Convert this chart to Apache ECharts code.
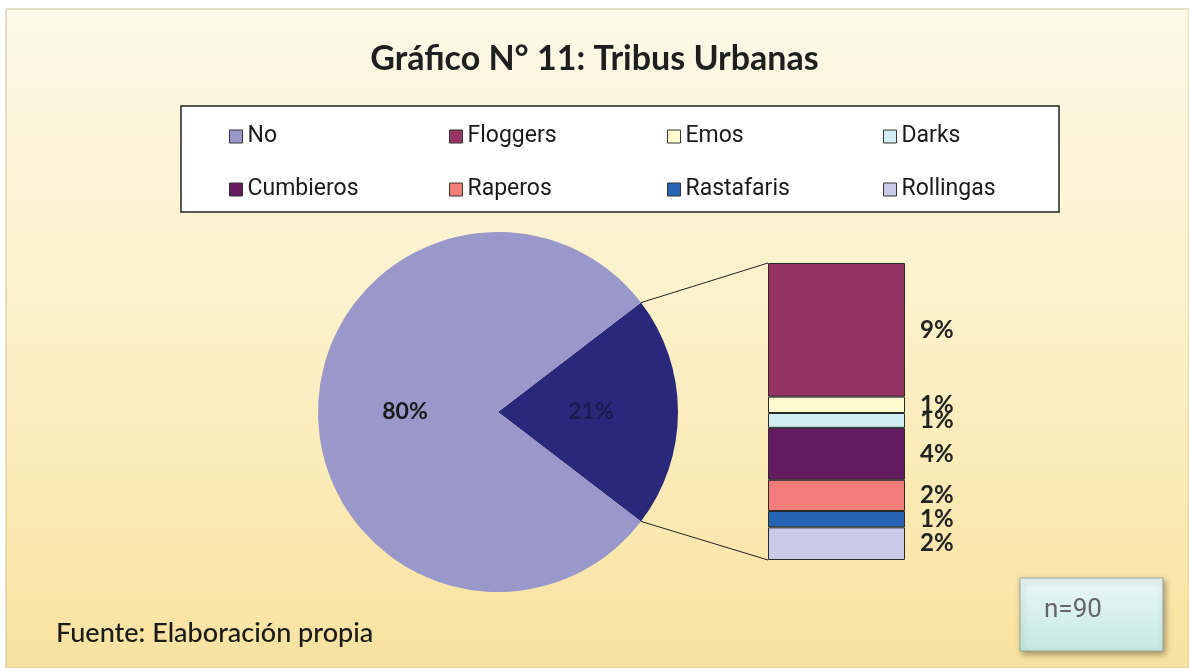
<!DOCTYPE html>
<html>
<head>
<meta charset="utf-8">
<script src="https://cdn.jsdelivr.net/npm/echarts@6/dist/echarts.min.js"></script>
<style>
  html, body { margin: 0; padding: 0; background: #ffffff; }
  #main { width: 1189px; height: 668px; }
</style>
</head>
<body>
<div id="main"></div>
<script>
// datos del grafico
var pieNames = ['Otros', 'No'];
var pieValues = [21, 80];
var pieColors = ['#29287a', '#9a97cb'];

var barNames = ['Floggers', 'Emos', 'Darks', 'Cumbieros', 'Raperos', 'Rastafaris', 'Rollingas'];
var barValues = [9, 1.1, 1, 3.5, 2.1, 1.1, 2.2];
var barColors = ['#943462', '#fdfbcf', '#d2eef2', '#651b5f', '#f27d7b', '#2563b3', '#cbcae9'];

var legendRow1 = ['No', 'Floggers', 'Emos', 'Darks'];
var legendRow2 = ['Cumbieros', 'Raperos', 'Rastafaris', 'Rollingas'];

var pieCenter = [498, 412];
var pieRadius = 180;
var pieTotal = pieValues[0] + pieValues[1];
var startAngle = pieValues[0] / pieTotal * 360 / 2;   // slice centrado a la derecha

var barTotal = 0;
for (var i = 0; i < barValues.length; i++) barTotal += barValues[i];

var chart = echarts.init(document.getElementById('main'));

var series = [];
series.push({
    type: 'pie',
    center: pieCenter,
    radius: pieRadius,
    startAngle: startAngle,
    clockwise: true,
    silent: true,
    label: {
        show: true,
        position: 'inside',
        fontFamily: 'Lato, "Open Sans", sans-serif',
        fontWeight: 'bold',
        fontSize: 23,
        color: '#1a1a1a',
        formatter: function (p) { return p.value + '%'; }
    },
    labelLine: { show: false },
    data: pieNames.map(function (n, i) {
        var lbl = i === 0 ? { color: '#1c1b50' } : {};
        return { name: n, value: pieValues[i], itemStyle: { color: pieColors[i] }, label: lbl };
    })
});
for (var k = 0; k < barNames.length; k++) {
    series.push({
        name: barNames[k],
        type: 'bar',
        stack: 'otros',
        barWidth: '100%',
        itemStyle: { color: barColors[k], borderColor: '#2a2a2a', borderWidth: 1 },
        label: {
            show: true,
            position: 'right',
            distance: 15,
            fontFamily: 'Lato, "Open Sans", sans-serif',
            fontWeight: 'bold',
            fontSize: 24,
            color: '#222',
            formatter: function (p) { return Math.round(p.value) + '%'; }
        },
        data: [barValues[k]]
    });
}

// leyenda: un bloque por elemento, 4 columnas x 2 filas
var legendCols = [224, 444, 662, 878];
var legendTops = [120, 173];
var legends = [];
[legendRow1, legendRow2].forEach(function (row, r) {
    row.forEach(function (name, c) {
        legends.push({
            data: [name],
            left: legendCols[c],
            top: legendTops[r],
            icon: 'rect',
            itemWidth: 13,
            itemHeight: 13,
            itemGap: 4,
            itemStyle: { borderColor: '#333', borderWidth: 1 },
            selectedMode: false,
            textStyle: {
                fontFamily: 'Roboto, sans-serif',
                fontSize: 23,
                color: '#1a1a1a'
            }
        });
    });
});

var option = {
    backgroundColor: '#ffffff',
    animation: false,
    title: {
        text: 'Gráfico N° 11: Tribus Urbanas',
        left: 'center',
        top: 37,
        textStyle: {
            fontFamily: 'Lato, "Open Sans", sans-serif',
            fontSize: 34,
            fontWeight: 'bold',
            color: '#1f1f1f'
        }
    },
    legend: legends,
    grid: { left: 768, top: 263, width: 137, height: 297 },
    xAxis: { type: 'category', data: ['Otros'], show: false },
    yAxis: { type: 'value', inverse: true, min: 0, max: barTotal, show: false },
    series: series
};
chart.setOption(option);

// decoracion: fondo, cuadro de leyenda, lineas de union, notas
var a = startAngle * Math.PI / 180;
var p1 = [pieCenter[0] + pieRadius * Math.cos(a), pieCenter[1] - pieRadius * Math.sin(a)];
var p2 = [pieCenter[0] + pieRadius * Math.cos(a), pieCenter[1] + pieRadius * Math.sin(a)];
var barTop = chart.convertToPixel({ gridIndex: 0 }, [0, 0]);
var barBot = chart.convertToPixel({ gridIndex: 0 }, [0, barTotal]);
var barLeft = 768;

chart.setOption({
    graphic: [
        {
            type: 'rect', z: -10, silent: true,
            shape: { x: 6, y: 9, width: 1183, height: 659 },
            style: {
                fill: new echarts.graphic.LinearGradient(0, 0, 0, 1, [
                    { offset: 0, color: '#fdf9e8' },
                    { offset: 0.5, color: '#fbf0c6' },
                    { offset: 1, color: '#f9e2a0' }
                ]),
                stroke: '#c9c29a', lineWidth: 1
            }
        },
        {
            type: 'rect', z: -5, silent: true,
            shape: { x: 181, y: 106, width: 878, height: 106 },
            style: { fill: '#ffffff', stroke: '#222', lineWidth: 1.5 }
        },
        {
            type: 'line', z: 5, silent: true,
            shape: { x1: p1[0], y1: p1[1], x2: barLeft, y2: barTop[1] },
            style: { stroke: '#222', lineWidth: 1 }
        },
        {
            type: 'line', z: 5, silent: true,
            shape: { x1: p2[0], y1: p2[1], x2: barLeft, y2: barBot[1] },
            style: { stroke: '#222', lineWidth: 1 }
        },
        {
            type: 'text', left: 56, top: 620, silent: true,
            style: {
                text: 'Fuente: Elaboración propia',
                font: '500 27px Lato, "Open Sans", sans-serif',
                fill: '#1a1a1a'
            }
        },
        {
            type: 'rect', z: 1, silent: true,
            shape: { x: 1020, y: 578, width: 143, height: 73 },
            style: {
                fill: new echarts.graphic.LinearGradient(0, 0, 0, 1, [
                    { offset: 0, color: '#eaf8f6' },
                    { offset: 1, color: '#c4e9e2' }
                ]),
                stroke: '#9aa69a', lineWidth: 1,
                shadowBlur: 6, shadowOffsetX: 2, shadowOffsetY: 3, shadowColor: 'rgba(0,0,0,0.35)'
            }
        },
        {
            type: 'text', z: 2, left: 1044, top: 597, silent: true,
            style: {
                text: 'n=90',
                font: '26px Roboto, sans-serif',
                fill: '#666'
            }
        }
    ]
});
</script>
</body>
</html>
